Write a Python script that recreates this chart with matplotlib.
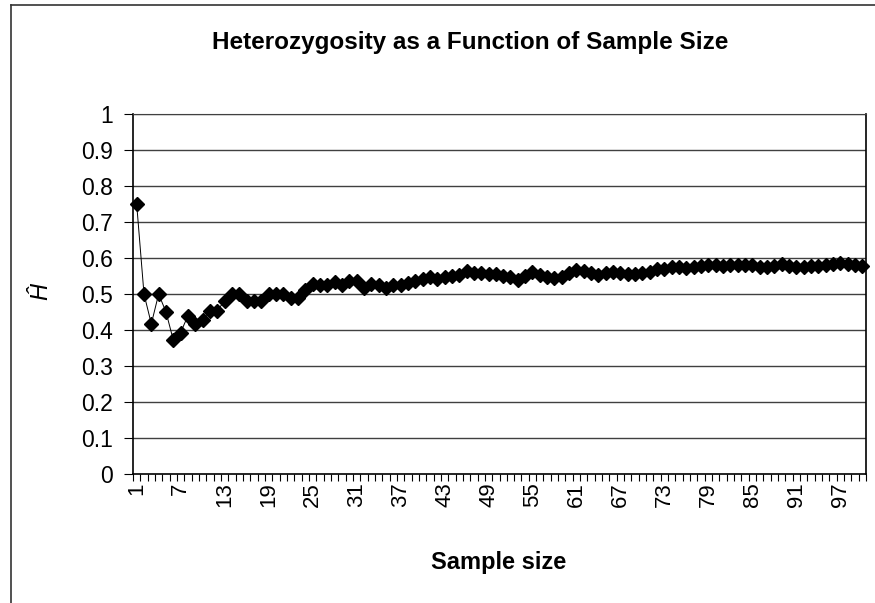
import numpy as np
import matplotlib
matplotlib.use("Agg")
import matplotlib.pyplot as plt
from matplotlib.lines import Line2D

plt.rcParams['font.family'] = ['Liberation Sans', 'DejaVu Sans']

# Sample sizes 1..100 and the heterozygosity estimate
sample_size = list(range(1, 101))
h_hat = [
    0.750, 0.500, 0.417, 0.500, 0.450, 0.372, 0.393, 0.440, 0.418, 0.428,
    0.454, 0.454, 0.481, 0.500, 0.500, 0.481, 0.481, 0.481, 0.500, 0.500,
    0.500, 0.489, 0.489, 0.511, 0.528, 0.526, 0.526, 0.533, 0.526, 0.535,
    0.535, 0.518, 0.528, 0.525, 0.517, 0.525, 0.525, 0.530, 0.535, 0.542,
    0.546, 0.543, 0.546, 0.550, 0.554, 0.563, 0.557, 0.557, 0.556, 0.556,
    0.551, 0.546, 0.539, 0.551, 0.560, 0.554, 0.548, 0.544, 0.548, 0.557,
    0.568, 0.565, 0.559, 0.554, 0.557, 0.561, 0.559, 0.556, 0.556, 0.557,
    0.561, 0.569, 0.569, 0.574, 0.576, 0.572, 0.576, 0.579, 0.581, 0.581,
    0.579, 0.581, 0.581, 0.581, 0.580, 0.576, 0.576, 0.579, 0.582, 0.578,
    0.576, 0.576, 0.577, 0.579, 0.581, 0.583, 0.585, 0.583, 0.581, 0.579,
]
xtick_labels = [str(n) for n in range(1, 101, 6)]
ytick_values = [round(v * 0.1, 1) for v in range(0, 11)]

fig = plt.figure(figsize=(8.75, 6.03), dpi=100)
ax = fig.add_axes([133 / 875, 1 - 474 / 603, 733 / 875, 360 / 603])

# chart-area border (only top and left fall inside the picture)
fig.add_artist(Line2D([11 / 875, 11 / 875], [0, 1 - 4.5 / 603],
                      transform=fig.transFigure, color='#333333', lw=1.2))
fig.add_artist(Line2D([11 / 875, 1], [1 - 4.5 / 603, 1 - 4.5 / 603],
                      transform=fig.transFigure, color='#333333', lw=1.2))

ax.plot(sample_size, h_hat, color='black', lw=0.7, marker='D',
        markersize=7, markerfacecolor='black', markeredgecolor='black',
        zorder=3, clip_on=False)

ax.set_xlim(0.5, 100.5)
ax.set_ylim(0, 1)

ax.set_yticks(ytick_values)
ax.set_yticklabels([f'{v:g}' for v in ytick_values])
for v in ytick_values[1:]:
    ax.axhline(v, color='#404040', lw=1, zorder=1)

ax.set_xticks(range(1, 101, 6))
ax.set_xticklabels(xtick_labels, rotation=90)
ax.set_xticks(np.arange(0.5, 101, 1), minor=True)
ax.tick_params(axis='x', which='major', length=0, pad=6, labelsize=16)
ax.tick_params(axis='x', which='minor', length=5, width=0.8, direction='out')
ax.tick_params(axis='y', length=6.5, width=0.8, direction='out', pad=8,
               labelsize=16.5)

for side in ['left', 'bottom']:
    ax.spines[side].set_color('black')
    ax.spines[side].set_linewidth(1.2)
ax.spines['top'].set_color('#404040')
ax.spines['right'].set_color('black')
ax.spines['right'].set_linewidth(1.2)

fig.text(470 / 875, 1 - 42 / 603, 'Heterozygosity as a Function of Sample Size',
         ha='center', va='center', fontsize=17.5, fontweight='bold')
fig.text(499 / 875, 1 - 563 / 603, 'Sample size', ha='center', va='center',
         fontsize=17, fontweight='bold')
fig.text(41 / 875, 1 - 292 / 603, '\u0124', ha='center', va='center',
         fontsize=17, style='italic', rotation=90)

fig.savefig('out.png', dpi=100)
